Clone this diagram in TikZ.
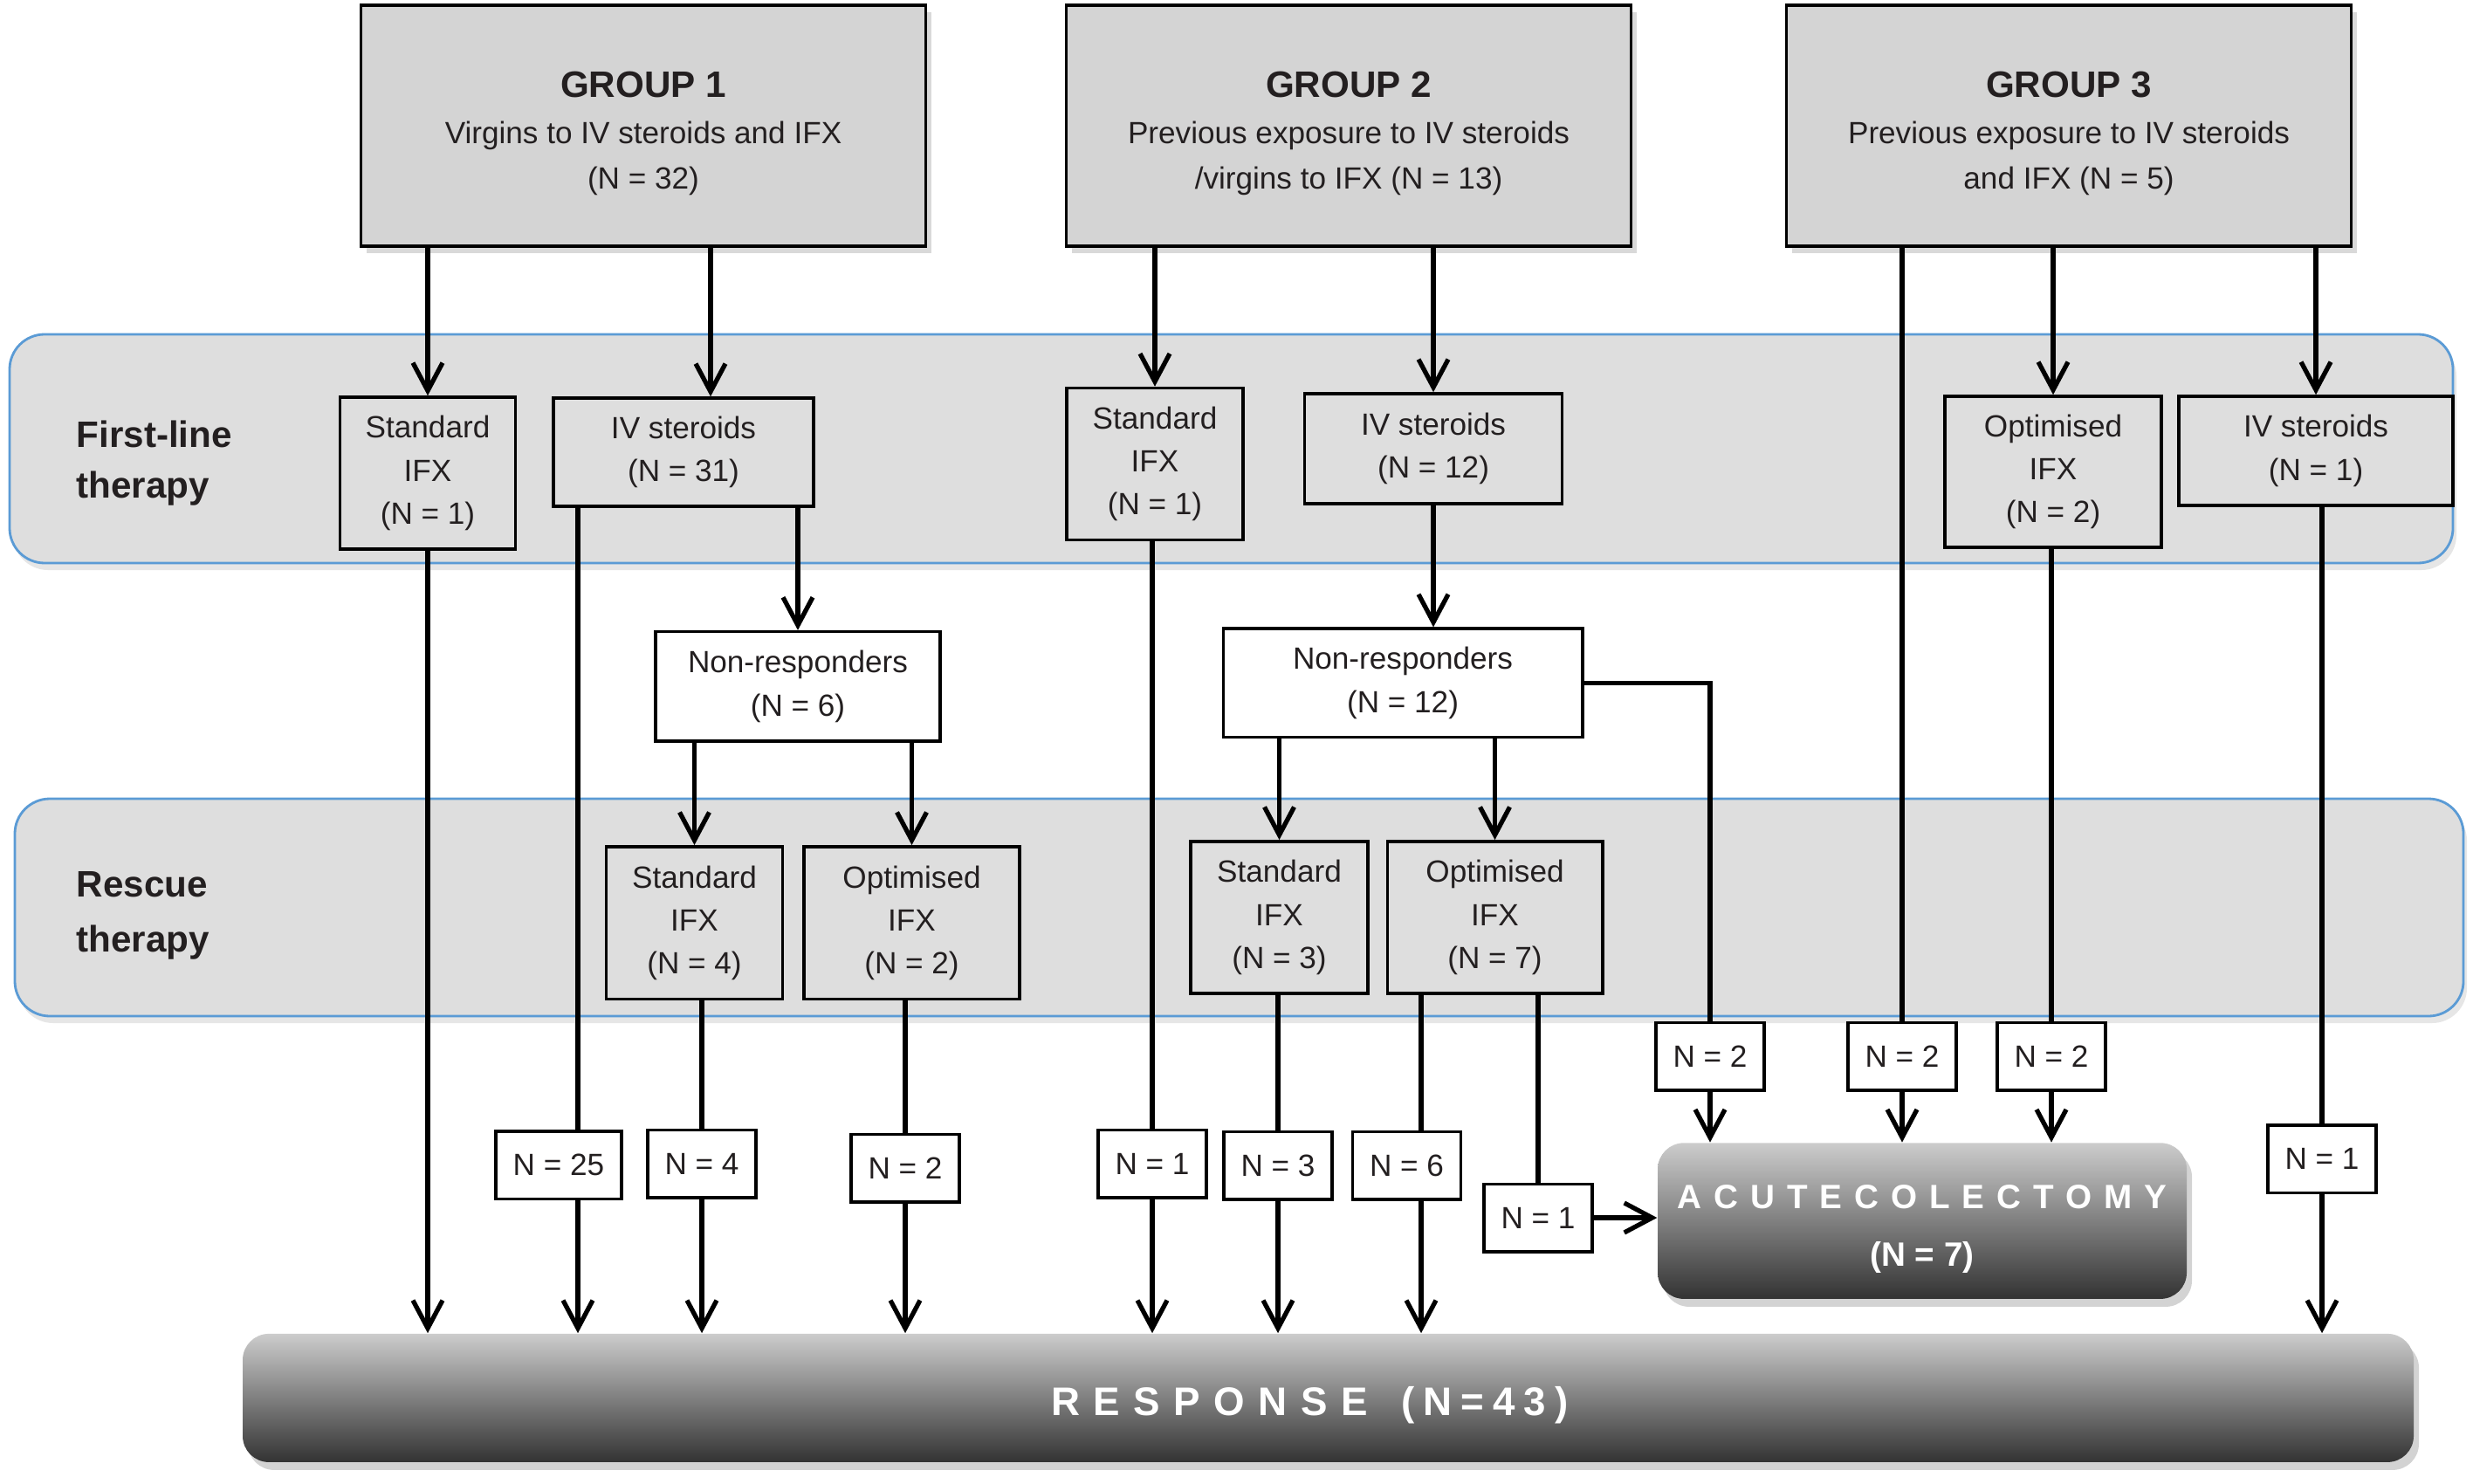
\documentclass[tikz,border=0pt]{standalone}
\usepackage{fontspec}
\setmainfont{Liberation Sans}
\newfontfamily\colfont[LetterSpace=36]{Liberation Sans}
\newfontfamily\respfont[LetterSpace=34]{Liberation Sans}
\newfontfamily\respnfont[LetterSpace=22]{Liberation Sans}
\usepackage{tikz}
\usetikzlibrary{arrows.meta}
\usetikzlibrary{shadows}
\definecolor{ink}{HTML}{231F20}
\definecolor{bandgray}{HTML}{DEDEDE}
\definecolor{groupgray}{HTML}{D4D4D4}
\definecolor{bandblue}{HTML}{5B9BD5}
\tikzset{
    flow/.style={draw=black, line width=1.5pt, -{Straight Barb[length=3.2mm,width=3.4mm]}},
    link/.style={draw=black, line width=1.5pt},
    group/.style={draw=black, line width=1.1pt, fill=groupgray, align=center, text=ink,
        minimum width=6.47cm, minimum height=2.76cm, inner sep=0pt,
        font=\fontsize{10}{15}\selectfont,
        drop shadow={shadow xshift=0.6mm, shadow yshift=-0.8mm, opacity=0.3}},
    cell/.style={draw=black, line width=1pt, fill=bandgray, align=center, text=ink,
        inner sep=0pt, font=\fontsize{10}{14}\selectfont},
    count/.style={draw=black, line width=1pt, fill=white, text=ink, inner sep=0pt,
        minimum width=1.24cm, minimum height=0.775cm, font=\fontsize{10}{12}\selectfont},
    band/.style={draw=bandblue, line width=0.8pt, fill=bandgray, rounded corners=0.4cm,
        drop shadow={shadow xshift=0.4mm, shadow yshift=-0.8mm, opacity=0.2}},
    outcome/.style={rounded corners=0.3cm, top color=black!20, bottom color=black!80,
        text=white, align=center, inner sep=0pt,
        drop shadow={shadow xshift=0.6mm, shadow yshift=-0.9mm, opacity=0.35}}
}
\begin{document}
\begin{tikzpicture}
\useasboundingbox (0,0) rectangle (28.33,16.99);
\path[band] (0.11,10.54) rectangle (28.1,13.16);
\path[band] (0.17,5.35) rectangle (28.22,7.84);
\node[anchor=west, align=left, inner sep=0pt, text=ink, font=\fontsize{12}{16.5}\selectfont\bfseries]
  (firstlab) at (0.87,11.68) {First-line\\therapy};
\node[anchor=west, align=left, inner sep=0pt, text=ink, font=\fontsize{12}{18}\selectfont\bfseries]
  (rescuelab) at (0.87,6.50) {Rescue\\therapy};

\node[group] (G1) at (7.37,15.55)
  {{\fontsize{12}{15}\selectfont\bfseries\rule{0pt}{13.5pt}GROUP 1}\\Virgins to IV steroids and IFX\\(N = 32)};
\node[group] (G2) at (15.45,15.55)
  {{\fontsize{12}{15}\selectfont\bfseries\rule{0pt}{13.5pt}GROUP 2}\\Previous exposure to IV steroids\\/virgins to IFX (N = 13)};
\node[group] (G3) at (23.70,15.55)
  {{\fontsize{12}{15}\selectfont\bfseries\rule{0pt}{13.5pt}GROUP 3}\\Previous exposure to IV steroids\\and IFX (N = 5)};

\node[cell, minimum width=2.01cm, minimum height=1.74cm] (SF1) at (4.90,11.57) {Standard\\IFX\\(N = 1)};
\node[cell, minimum width=2.98cm, minimum height=1.24cm] (IF1) at (7.83,11.81) {IV steroids\\(N = 31)};
\node[cell, minimum width=2.02cm, minimum height=1.74cm] (SF2) at (13.23,11.675) {Standard\\IFX\\(N = 1)};
\node[cell, minimum width=2.95cm, minimum height=1.26cm] (IF2) at (16.42,11.85) {IV steroids\\(N = 12)};
\node[cell, minimum width=2.48cm, minimum height=1.73cm] (OF3) at (23.52,11.585) {Optimised\\IFX\\(N = 2)};
\node[cell, minimum width=3.14cm, minimum height=1.25cm] (IF3) at (26.53,11.825) {IV steroids\\(N = 1)};

\node[cell, fill=white, minimum width=3.26cm, minimum height=1.255cm] (NR1) at (9.14,9.126) {Non-responders\\(N = 6)};
\node[cell, fill=white, minimum width=4.115cm, minimum height=1.245cm] (NR2) at (16.07,9.166) {Non-responders\\(N = 12)};

\node[cell, minimum width=2.02cm, minimum height=1.747cm] (SR1) at (7.955,6.418) {Standard\\IFX\\(N = 4)};
\node[cell, minimum width=2.47cm, minimum height=1.747cm] (OR1) at (10.445,6.418) {Optimised\\IFX\\(N = 2)};
\node[cell, minimum width=2.03cm, minimum height=1.743cm] (SR2) at (14.655,6.48) {Standard\\IFX\\(N = 3)};
\node[cell, minimum width=2.465cm, minimum height=1.743cm] (OR2) at (17.125,6.48) {Optimised\\IFX\\(N = 7)};

\node[count, minimum width=1.44cm] (c25) at (6.40,3.645) {N = 25};
\node[count] (c4) at (8.04,3.66) {N = 4};
\node[count] (c2) at (10.37,3.61) {N = 2};
\node[count] (c1) at (13.20,3.66) {N = 1};
\node[count] (c3) at (14.64,3.637) {N = 3};
\node[count] (c6) at (16.115,3.637) {N = 6};
\node[count] (c1b) at (17.62,3.04) {N = 1};
\node[count] (c2a) at (19.59,4.89) {N = 2};
\node[count] (c2b) at (21.79,4.89) {N = 2};
\node[count] (c2c) at (23.50,4.89) {N = 2};
\node[count] (c1r) at (26.60,3.715) {N = 1};

\node[outcome, minimum width=6.06cm, minimum height=1.786cm, font=\fontsize{11}{19}\selectfont\bfseries]
  (ACOL) at (22.02,3.004) {{\colfont\rule{0pt}{13pt}ACUTECOLECTOMY}\\(N = 7)};
\node[outcome, minimum width=24.87cm, minimum height=1.47cm] (RESP) at (15.215,0.976)
  {\fontsize{13}{15}\selectfont\bfseries\rule{0pt}{14pt}{\respfont RESPONSE}\hspace{11pt}{\respnfont (N=43)}\hspace{12pt}};

\coordinate (x1) at (8.14,0);
\coordinate (x2) at (6.62,0);
\coordinate (x3) at (16.28,0);

\draw[flow] (SF1.north |- G1.south) -- (SF1.north);
\draw[flow] (G1.south -| x1) -- (IF1.north -| x1);
\draw[flow] (SF2.north |- G2.south) -- (SF2.north);
\draw[flow] (IF2.north |- G2.south) -- (IF2.north);
\draw[link] (c2b.north |- G3.south) -- (c2b.north);
\draw[flow] (OF3.north |- G3.south) -- (OF3.north);
\draw[flow] (IF3.north |- G3.south) -- (IF3.north);

\draw[flow] (SF1.south) -- (SF1.south |- RESP.north);
\draw[link] (IF1.south -| x2) -- (c25.north -| x2);
\draw[flow] (c25.south -| x2) -- (RESP.north -| x2);
\draw[flow] (IF1.south -| NR1.north) -- (NR1.north);
\draw[flow] (NR1.south -| SR1.north) -- (SR1.north);
\draw[flow] (NR1.south -| OR1.north) -- (OR1.north);
\draw[link] (SR1.south -| c4.north) -- (c4.north);
\draw[flow] (c4.south) -- (c4.south |- RESP.north);
\draw[link] (OR1.south -| c2.north) -- (c2.north);
\draw[flow] (c2.south) -- (c2.south |- RESP.north);

\draw[link] (SF2.south -| c1.north) -- (c1.north);
\draw[flow] (c1.south) -- (c1.south |- RESP.north);
\draw[flow] (IF2.south) -- (IF2.south |- NR2.north);
\draw[flow] (NR2.south -| SR2.north) -- (SR2.north);
\draw[flow] (NR2.south -| OR2.north) -- (OR2.north);
\draw[link] (SR2.south -| c3.north) -- (c3.north);
\draw[flow] (c3.south) -- (c3.south |- RESP.north);
\draw[link] (OR2.south -| x3) -- (c6.north -| x3);
\draw[flow] (c6.south -| x3) -- (RESP.north -| x3);
\draw[link] (OR2.south -| c1b.north) -- (c1b.north);
\draw[flow] (c1b.east) -- (c1b.east -| ACOL.west);
\draw[link] (NR2.east) -- (NR2.east -| c2a.north) -- (c2a.north);
\draw[flow] (c2a.south) -- (c2a.south |- ACOL.north);

\draw[flow] (c2b.south) -- (c2b.south |- ACOL.north);
\draw[link] (OF3.south -| c2c.north) -- (c2c.north);
\draw[flow] (c2c.south) -- (c2c.south |- ACOL.north);
\draw[link] (IF3.south -| c1r.north) -- (c1r.north);
\draw[flow] (c1r.south) -- (c1r.south |- RESP.north);
\end{tikzpicture}
\end{document}
